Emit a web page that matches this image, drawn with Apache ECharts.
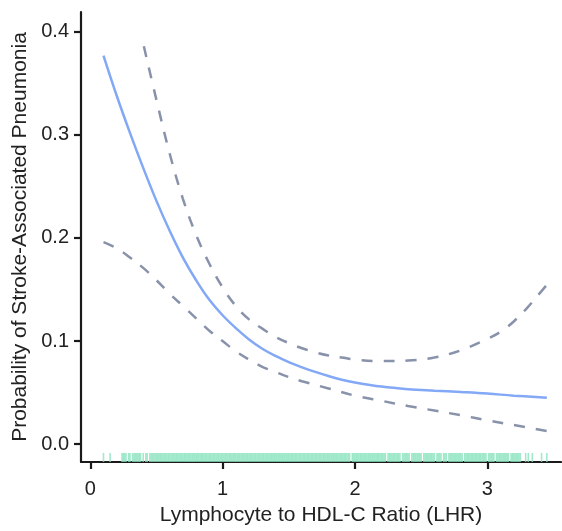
<!DOCTYPE html>
<html>
<head>
<meta charset="utf-8">
<script src="https://cdn.jsdelivr.net/npm/echarts@6/dist/echarts.min.js"></script>
<style>
html,body{margin:0;padding:0;background:#fff;}
#chart{width:562px;height:531px;}
</style>
</head>
<body>
<div id="chart"></div>
<script>
// Fitted probability curve (LHR, probability)
var fitX = [0.10,0.20,0.30,0.40,0.50,0.60,0.70,0.80,0.90,1.00,1.10,1.20,1.30,1.40,1.50,1.60,1.70,1.80,1.90,2.00,2.20,2.40,2.60,2.80,3.00,3.20,3.45];
var fitY = [0.377,0.338,0.302,0.268,0.236,0.207,0.181,0.159,0.140,0.125,0.1125,0.1015,0.0925,0.0855,0.0795,0.0745,0.070,0.066,0.0625,0.0598,0.0558,0.0533,0.0518,0.0505,0.049,0.047,0.045];
// Upper confidence limit
var upX = [0.405,0.50,0.60,0.70,0.80,0.90,1.00,1.10,1.20,1.30,1.40,1.50,1.60,1.70,1.80,1.90,2.00,2.20,2.40,2.60,2.80,3.00,3.10,3.20,3.30,3.40,3.46];
var upY = [0.386,0.334,0.282,0.238,0.203,0.175,0.152,0.134,0.121,0.112,0.104,0.098,0.093,0.089,0.086,0.084,0.082,0.0805,0.081,0.084,0.091,0.102,0.109,0.119,0.132,0.147,0.156];
// Lower confidence limit
var loX = [0.10,0.20,0.30,0.40,0.50,0.60,0.70,0.80,0.90,1.00,1.10,1.20,1.30,1.40,1.50,1.60,1.80,2.00,2.20,2.40,2.60,2.80,3.00,3.20,3.46];
var loY = [0.196,0.190,0.181,0.171,0.159,0.146,0.134,0.122,0.110,0.100,0.090,0.082,0.075,0.070,0.065,0.061,0.054,0.047,0.042,0.037,0.0325,0.028,0.023,0.0185,0.0125];
// Observed LHR values (rug)
var rugX = [0.10,0.15,0.24,0.25,0.26,0.27,0.29,0.30,0.32,0.33,0.34,0.35,0.36,0.37,0.38,0.40,0.42,0.43,0.45,0.46,0.47,0.48,0.49,
0.50,0.51,0.52,0.53,0.54,0.55,0.56,0.57,0.58,0.59,0.60,0.61,0.62,0.63,0.64,0.65,0.66,0.67,0.68,0.69,
0.70,0.71,0.72,0.73,0.74,0.75,0.76,0.77,0.78,0.79,0.80,0.81,0.82,0.83,0.84,0.85,0.86,0.87,0.88,0.89,
0.90,0.91,0.92,0.93,0.94,0.95,0.96,0.97,0.98,0.99,1.00,1.01,1.02,1.03,1.04,1.05,1.06,1.07,1.08,1.09,
1.10,1.11,1.12,1.13,1.14,1.15,1.16,1.17,1.18,1.19,1.20,1.21,1.22,1.23,1.24,1.25,1.26,1.27,1.28,1.29,
1.30,1.31,1.32,1.33,1.34,1.35,1.36,1.37,1.38,1.39,1.40,1.41,1.42,1.43,1.44,1.45,1.46,1.47,1.48,1.49,
1.50,1.51,1.52,1.53,1.54,1.55,1.56,1.57,1.58,1.59,1.60,1.61,1.62,1.63,1.64,1.65,1.66,1.67,1.68,1.69,
1.70,1.71,1.72,1.73,1.74,1.75,1.76,1.77,1.78,1.79,1.80,1.81,1.82,1.83,1.84,1.85,1.86,1.87,1.88,1.89,
1.90,1.91,1.92,1.93,1.94,1.95,1.96,1.98,1.99,2.00,2.01,2.02,2.03,2.04,2.05,2.06,2.07,2.08,2.09,
2.10,2.11,2.12,2.13,2.14,2.15,2.16,2.17,2.18,2.19,2.20,2.21,2.22,2.23,2.25,2.26,2.27,2.28,2.29,
2.30,2.31,2.32,2.33,2.34,2.36,2.37,2.38,2.39,2.40,2.41,2.43,2.44,2.45,2.46,2.47,2.48,2.49,
2.50,2.52,2.53,2.54,2.55,2.56,2.57,2.58,2.59,2.60,2.62,2.63,2.64,2.65,2.67,2.68,2.69,
2.71,2.72,2.73,2.74,2.75,2.76,2.77,2.78,2.79,2.80,2.81,2.83,2.84,2.85,2.86,2.87,2.88,2.89,
2.90,2.91,2.92,2.93,2.94,2.95,2.96,2.97,2.98,2.99,3.01,3.02,3.03,3.04,3.05,3.07,3.08,3.09,
3.10,3.11,3.12,3.13,3.14,3.15,3.16,3.18,3.19,3.20,3.21,3.22,3.23,3.24,3.25,3.29,3.31,3.34,3.41,3.45];
var xTicks = [0,1,2,3];
var yTicks = [0,0.1,0.2,0.3,0.4];
var rugLevel = -0.013;

function pairs(xs, ys){ return xs.map(function(x,i){ return [x, ys[i]]; }); }

var chart = echarts.init(document.getElementById('chart'), null, {renderer:'canvas'});
var txt = '#222';
var font = 'Liberation Sans, Arial, sans-serif';
chart.setOption({
  animation:false,
  backgroundColor:'#fff',
  grid:{left:81, right:1, top:12, bottom:67, containLabel:false},
  xAxis:{
    type:'value', min:-0.07, max:3.557,
    name:'Lymphocyte to HDL-C Ratio (LHR)', nameLocation:'middle', nameGap:43,
    nameTextStyle:{color:txt, fontSize:21, fontFamily:font},
    axisLine:{show:true, onZero:false, lineStyle:{color:'#1a1a1a', width:2.2}},
    axisTick:{show:true, customValues:xTicks, length:7, lineStyle:{color:'#1a1a1a', width:2.2}},
    axisLabel:{customValues:xTicks, color:txt, fontSize:20, fontFamily:font, margin:17},
    splitLine:{show:false}
  },
  yAxis:{
    type:'value', min:-0.0174, max:0.4193,
    name:'Probability of Stroke-Associated Pneumonia', nameLocation:'middle', nameGap:47,
    nameTextStyle:{color:txt, fontSize:21, fontFamily:font},
    axisLine:{show:true, onZero:false, lineStyle:{color:'#1a1a1a', width:2.2}},
    axisTick:{show:true, customValues:yTicks, length:7, lineStyle:{color:'#1a1a1a', width:2.2}},
    axisLabel:{customValues:yTicks, color:txt, fontSize:20, fontFamily:font, margin:12,
      formatter:function(v){ return v.toFixed(1); }},
    splitLine:{show:false}
  },
  series:[
    {type:'scatter', data:rugX.map(function(x){ return [x, rugLevel]; }),
     symbol:'rect', symbolSize:[1.6, 9], itemStyle:{color:'#8BE4BF'}, silent:true, z:1},
    {type:'line', data:pairs(upX, upY), smooth:0.4, showSymbol:false,
     lineStyle:{color:'#8892AA', width:2.5, type:[11,11]}, z:2},
    {type:'line', data:pairs(loX, loY), smooth:0.4, showSymbol:false,
     lineStyle:{color:'#8892AA', width:2.5, type:[11,11]}, z:2},
    {type:'line', data:pairs(fitX, fitY), smooth:0.4, showSymbol:false,
     lineStyle:{color:'#82A8F6', width:2.5}, z:3}
  ]
});
</script>
</body>
</html>
